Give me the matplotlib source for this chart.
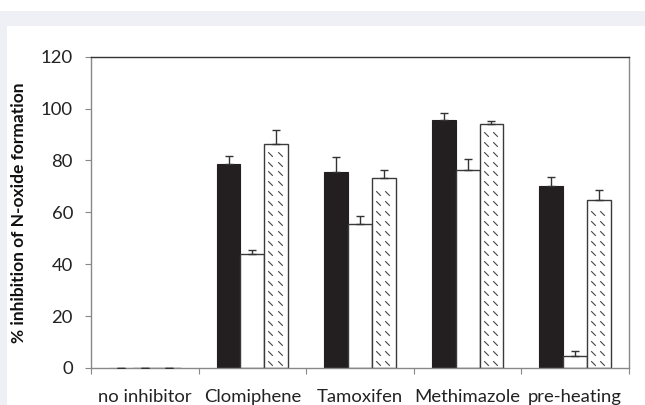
import numpy as np
import matplotlib
matplotlib.use('Agg')
import matplotlib.pyplot as plt
from matplotlib.path import Path
from matplotlib.patches import Rectangle

plt.rcParams['font.family'] = ['Lato', 'DejaVu Sans']

categories = ['no inhibitor', 'Clomiphene', 'Tamoxifen', 'Methimazole', 'pre-heating']
solid_vals = [0, 78.8, 75.4, 95.5, 70.2]
solid_err = [0, 3.1, 6.1, 2.8, 3.4]
open_vals = [0, 44.0, 55.7, 76.4, 4.6]
open_err = [0, 1.4, 2.9, 4.0, 1.9]
hatched_vals = [0, 86.5, 73.1, 94.0, 64.8]
hatched_err = [0, 5.4, 3.3, 1.4, 4.0]
yticks = [0, 20, 40, 60, 80, 100, 120]

fig = plt.figure(figsize=(6.45, 4.05), dpi=100)
fig.patch.set_facecolor('white')
# page-style background: grey band with a white panel on top
fig.patches.append(Rectangle((0, 0), 1, 1 - 10.7 / 405, transform=fig.transFigure,
                             facecolor='#eff0f5', edgecolor='none', zorder=-2))
fig.patches.append(Rectangle((6.7 / 645, 0), 1, 1 - 25.7 / 405, transform=fig.transFigure,
                             facecolor='white', edgecolor='none', zorder=-1))

ax = fig.add_axes([91 / 645, (405 - 368) / 405, (629 - 91) / 645, (368 - 56.7) / 405])

x = np.arange(len(categories))
w = 0.222
edge = '#3a3a3a'

b1 = ax.bar(x - w, solid_vals, w, color='#231f20', edgecolor='#231f20', linewidth=0.8, zorder=2)
b2 = ax.bar(x, open_vals, w, color='white', edgecolor=edge, linewidth=1.0, zorder=2)
b3 = ax.bar(x + w, hatched_vals, w, color='white', edgecolor=edge, linewidth=1.0, zorder=2)

for xs, vals, err in [(x - w, solid_vals, solid_err), (x, open_vals, open_err),
                      (x + w, hatched_vals, hatched_err)]:
    ax.errorbar(xs, vals, yerr=[np.zeros(len(err)), err], fmt='none', ecolor='#333333',
                elinewidth=1.0, capsize=3, capthick=1.0, zorder=3)

# dashed diagonal fill pattern for the third series
dash = Path([[-1, 1], [1, -1]])
step = 10 / 2.6
for bar in b3:
    h = bar.get_height()
    if h <= 0:
        continue
    rows = np.arange(1.9, h - 3, step)
    for f in (0.25, 0.64):
        xs = np.full(len(rows), bar.get_x() + f * bar.get_width())
        ax.plot(xs, rows, linestyle='none', marker=dash, markersize=3.3,
                markeredgecolor='#444444', markeredgewidth=0.8, zorder=3)

ax.set_xlim(-0.5, len(categories) - 0.5)
ax.set_ylim(0, 120)
ax.set_yticks(yticks)
ax.set_yticklabels([str(t) for t in yticks], fontsize=13.3, color='#222222')
ax.set_xticks(x)
ax.set_xticklabels(categories, fontsize=13.3, color='#222222')
ax.set_xticks(np.arange(-0.5, len(categories)), minor=True)
ax.tick_params(axis='x', which='major', length=0, pad=15)
ax.tick_params(axis='x', which='minor', length=4, width=0.8, color='#888888', direction='out')
ax.tick_params(axis='y', length=4, width=0.8, color='#888888', direction='out', pad=9)

for s in ['left', 'bottom', 'right']:
    ax.spines[s].set_color('#888888')
    ax.spines[s].set_linewidth(1.0)
ax.spines['top'].set_color('#333333')
ax.spines['top'].set_linewidth(1.0)

ax.set_ylabel('% inhibition of N-oxide formation', fontsize=12.5, fontweight='bold',
              color='#111111')
ax.yaxis.set_label_coords(-(91 - 27) / (629 - 91), 0.5)

fig.savefig('out.png', dpi=100)
